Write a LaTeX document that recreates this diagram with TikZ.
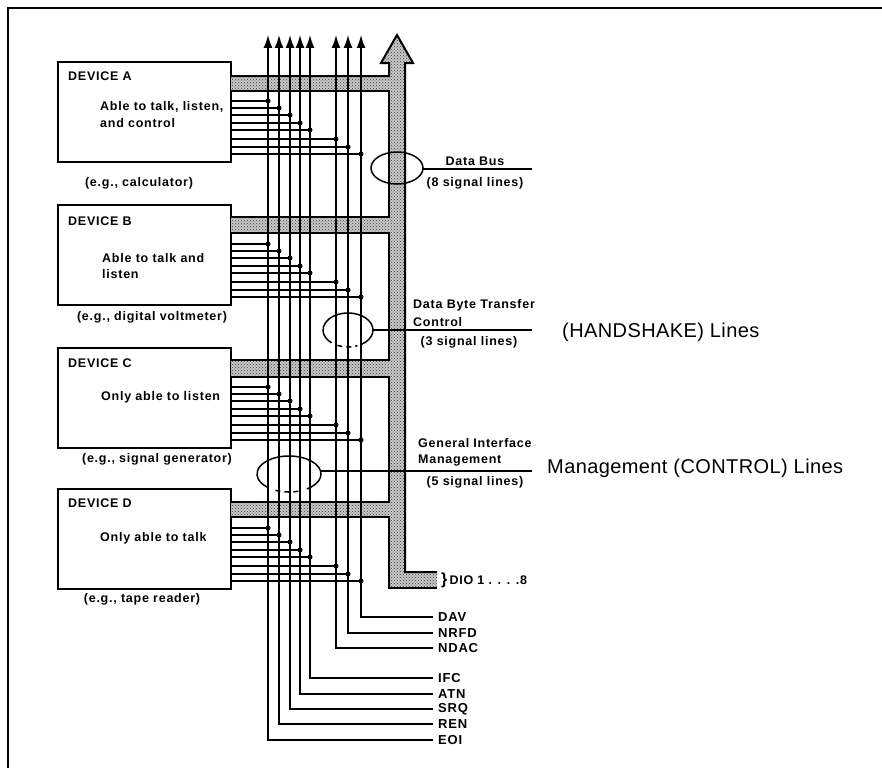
\documentclass[tikz,border=0pt]{standalone}
\usepackage{fontspec}
\setmainfont{Liberation Sans}
\newfontfamily\labfont[LetterSpace=6]{Liberation Sans}
\newfontfamily\bigfont[LetterSpace=2]{Liberation Sans}
\usetikzlibrary{arrows.meta,patterns}
\begin{document}
\begin{tikzpicture}[x=1pt,y=-1pt,
  box/.style={draw,line width=1.8pt,minimum width=173pt,minimum height=100pt,inner sep=0pt},
  sig/.style={line width=1.5pt},
  dot/.style={circle,fill,inner sep=0pt,minimum size=5pt},
  lbl/.style={font=\labfont\bfseries\fontsize{12.5}{14}\selectfont,inner sep=0pt},
  sigl/.style={font=\labfont\bfseries\fontsize{13}{14}\selectfont,inner sep=0pt,inner xsep=5pt,anchor=west},
  bigl/.style={font=\bigfont\fontsize{20}{24}\selectfont,inner sep=0pt,anchor=base west},
  busfill/.style={fill=black!22},
  busdots/.style={pattern=crosshatch dots,pattern color=black!75},
  busedge/.style={line width=2pt},
  tipa/.style={-{Latex[length=13pt,width=9pt]}},
  ell/.style={line width=1.5pt},
]
\useasboundingbox (0,0) rectangle (882,768);
% frame
\draw[line width=2.5pt] (882,8) -- (8,8) -- (8,768);

% devices
\node[box] (devA) at (144.5,112) {};
\node[box] (devB) at (144.5,255) {};
\node[box] (devC) at (144.5,398) {};
\node[box] (devD) at (144.5,539) {};

% bus
\def\buspath{(231,76) -- (389,76) -- (389,63) -- (381,63) -- (397,35) -- (413,63) -- (405,63)
  -- (405,572) -- (437,572) -- (437,588) -- (389,588) -- (389,517) -- (231,517) -- (231,502)
  -- (389,502) -- (389,377) -- (231,377) -- (231,360) -- (389,360) -- (389,233) -- (231,233)
  -- (231,217) -- (389,217) -- (389,91) -- (231,91) -- cycle}
\fill[busfill] \buspath;
\fill[busdots] \buspath;
\draw[busedge,line join=miter] (437,572) -- (405,572) -- (405,63) -- (413,63) -- (397,35) -- (381,63) -- (389,63) -- (389,76) -- (231,76);
\draw[busedge] (231,91) -- (389,91) -- (389,217) -- (231,217);
\draw[busedge] (231,233) -- (389,233) -- (389,360) -- (231,360);
\draw[busedge] (231,377) -- (389,377) -- (389,502) -- (231,502);
\draw[busedge] (231,517) -- (389,517) -- (389,588) -- (437,588);

% signal lines
\foreach \n/\x/\y/\t in {dav/361/617/DAV, nrfd/348/633/NRFD, ndac/336/648/NDAC, ifc/310/678/IFC, atn/300/694/ATN, srq/290/709/SRQ, ren/279/724/REN, eoi/268/740/EOI} {
  \node[sigl] (l\n) at (433,\y) {\t};
  \coordinate (t\n) at (\x,35);
  \draw[sig,tipa] (l\n.west) -| (t\n);
}
\foreach \dev/\T in {devA/62,devB/205,devC/348,devD/489}{
  \foreach \off/\n in {39/eoi,46/ren,53/srq,61/atn,68/ifc,77/ndac,85/nrfd,92/dav}{
    \coordinate (p) at (0,\T+\off);
    \draw[sig] (\dev.east |- p) -- (t\n |- p) node[dot]{};
  }
}

% device texts
\node[lbl,anchor=base west] at (68,80) {DEVICE A};
\node[lbl,anchor=base west] at (100,110) {Able to talk, listen,};
\node[lbl,anchor=base west] at (100,127) {and control};
\node[lbl,anchor=base] at (139,186) {(e.g., calculator)};

\node[lbl,anchor=base west] at (68,225) {DEVICE B};
\node[lbl,anchor=base west] at (102,262) {Able to talk and};
\node[lbl,anchor=base west] at (102,278) {listen};
\node[lbl,anchor=base] at (152,320) {(e.g., digital voltmeter)};

\node[lbl,anchor=base west] at (68,367) {DEVICE C};
\node[lbl,anchor=base west] at (101,400) {Only able to listen};
\node[lbl,anchor=base] at (157,462) {(e.g., signal generator)};

\node[lbl,anchor=base west] at (68,507) {DEVICE D};
\node[lbl,anchor=base west] at (100,541) {Only able to talk};
\node[lbl,anchor=base] at (142,602) {(e.g., tape reader)};

% data bus ellipse
\draw[ell] (397,168) ellipse [x radius=26pt, y radius=16pt];
\coordinate (dbR) at (423,169);
\coordinate (dbE) at (532,169);
\draw[sig] (dbR) -- (dbE);
\node[lbl,anchor=base] at (475,165) {Data Bus};
\node[lbl,anchor=base] at (475,186) {(8 signal lines)};

% handshake ellipse
\draw[ell] (348,330) ++(-56:25pt and 17pt) arc[start angle=-56, end angle=229, x radius=25pt, y radius=17pt];
\draw[ell,dash pattern=on 5pt off 4pt] (348,330) ++(245:25pt and 17pt) arc[start angle=245, end angle=292, x radius=25pt, y radius=17pt];
\coordinate (hsR) at (373,330);
\coordinate (hsE) at (532,330);
\draw[sig] (hsR) -- (hsE);
\node[lbl,anchor=base west] at (413,308) {Data Byte Transfer};
\node[lbl,anchor=base west] at (413,326) {Control};
\node[lbl,anchor=base] at (469,345) {(3 signal lines)};
\node[bigl] at (562,337) {(HANDSHAKE) Lines};

% management ellipse
\draw[ell] (289,474) ++(-56:32pt and 18pt) arc[start angle=-56, end angle=229, x radius=32pt, y radius=18pt];
\draw[ell,dash pattern=on 5pt off 4pt] (289,474) ++(245:32pt and 18pt) arc[start angle=245, end angle=292, x radius=32pt, y radius=18pt];
\coordinate (gmR) at (321,471);
\coordinate (gmE) at (532,471);
\draw[sig] (gmR) -- (gmE);
\node[lbl,anchor=base west] at (418,447) {General Interface};
\node[lbl,anchor=base west] at (418,463) {Management};
\node[lbl,anchor=base] at (475,485) {(5 signal lines)};
\node[bigl] at (547,473) {Management (CONTROL) Lines};

% DIO
\node[lbl,anchor=west] (dio) at (441,580) {{\fontsize{16}{16}\selectfont\}}\,DIO 1 . . . .8};
\end{tikzpicture}
\end{document}
